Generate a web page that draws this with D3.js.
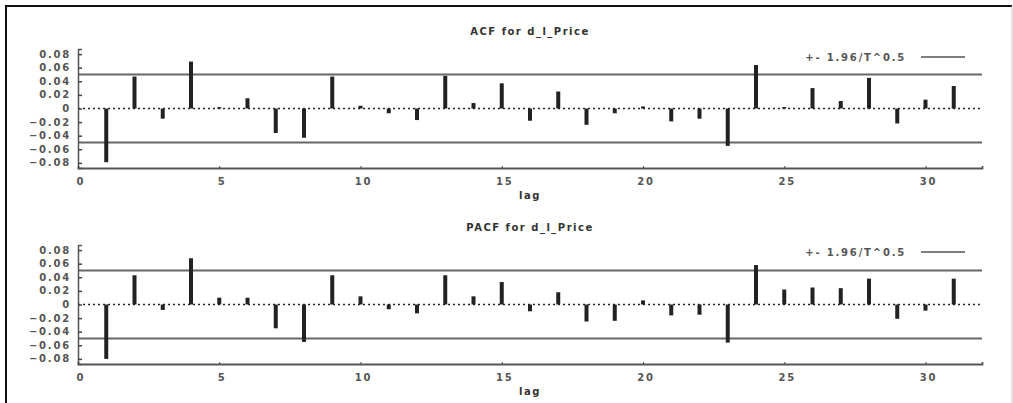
<!DOCTYPE html>
<html lang="en">

<head>
    <meta charset="UTF-8">
    <title>ACF / PACF for d_l_Price</title>
    <style>
        body { margin: 0; background: #fff; }
        text { font-family: "DejaVu Sans", sans-serif; fill: #555; font-weight: bold; }
    </style>
</head>

<body>
    <script type='text/javascript' src='https://d3js.org/d3.v7.min.js'></script>
    <script>
        var lags = d3.range(1, 32);
        var acfValues = [-0.079, 0.047, -0.015, 0.069, 0.002, 0.015, -0.036, -0.043, 0.047, 0.004,
            -0.007, -0.017, 0.048, 0.008, 0.037, -0.018, 0.025, -0.024, -0.007, 0.003,
            -0.019, -0.015, -0.055, 0.064, 0.002, 0.030, 0.011, 0.045, -0.022, 0.013, 0.033];
        var pacfValues = [-0.080, 0.043, -0.008, 0.068, 0.010, 0.010, -0.035, -0.055, 0.043, 0.012,
            -0.007, -0.013, 0.043, 0.012, 0.033, -0.010, 0.018, -0.025, -0.024, 0.006,
            -0.016, -0.015, -0.056, 0.058, 0.022, 0.025, 0.024, 0.038, -0.021, -0.009, 0.038];
        var yTicks = [-0.08, -0.06, -0.04, -0.02, 0, 0.02, 0.04, 0.06, 0.08];
        var xTicks = [0, 5, 10, 15, 20, 25, 30];
        var band = 0.05; // +- 1.96/T^0.5
        var titles = ["ACF for d_l_Price", "PACF for d_l_Price"];
        var legendLabel = "+- 1.96/T^0.5";

        const width = 1013;
        const height = 403;

        const svg = d3.select("body")
            .append("svg")
            .attr("width", width)
            .attr("height", height);

        // frame
        svg.append("line").attr("x1", 6).attr("x2", 1012).attr("y1", 6).attr("y2", 6)
            .attr("stroke", "#111").attr("stroke-width", 2);
        svg.append("line").attr("x1", 6).attr("x2", 6).attr("y1", 5).attr("y2", height)
            .attr("stroke", "#111").attr("stroke-width", 2);
        svg.append("line").attr("x1", 1012).attr("x2", 1012).attr("y1", 6).attr("y2", height)
            .attr("stroke", "#ccc").attr("stroke-width", 1);

        var x = d3.scaleLinear().domain([0, 32]).range([78, 982]);

        function panel(values, top, bottom, title, titleY, legendY) {
            var y = d3.scaleLinear().domain([-0.0875, 0.0875]).range([bottom, top]);
            var g = svg.append("g");

            g.append("text")
                .attr("x", 530).attr("y", titleY)
                .attr("text-anchor", "middle")
                .style("font-size", "10px")
                .style("letter-spacing", "1.5px")
                .style("fill", "#333")
                .text(title);

            // +- band lines
            [band, -band].forEach(function(b) {
                g.append("line")
                    .attr("x1", x(0)).attr("x2", x(32))
                    .attr("y1", y(b)).attr("y2", y(b))
                    .attr("stroke", "#666").attr("stroke-width", 1.8);
            });

            // zero line
            g.append("line")
                .attr("x1", x(0)).attr("x2", x(32))
                .attr("y1", y(0)).attr("y2", y(0))
                .attr("stroke", "#222").attr("stroke-width", 1.3)
                .attr("stroke-dasharray", "2,3");

            // bars
            g.selectAll("rect.bar")
                .data(values)
                .enter()
                .append("rect")
                .attr("class", "bar")
                .attr("x", function(d, i) { return x(lags[i]) - 2; })
                .attr("width", 4)
                .attr("y", function(d) { return y(Math.max(0, d)); })
                .attr("height", function(d) { return Math.abs(y(d) - y(0)); })
                .attr("fill", "#222");

            // y axis
            var yAxis = d3.axisRight(y).tickValues(yTicks).tickSize(4).tickFormat("");
            var ya = g.append("g").attr("transform", "translate(" + x(0) + ",0)").call(yAxis);
            ya.select(".domain").attr("stroke", "#555").attr("stroke-width", 1.5);
            ya.selectAll(".tick line").attr("stroke", "#444").attr("stroke-width", 1.5);
            g.selectAll("text.ylab")
                .data(yTicks)
                .enter()
                .append("text")
                .attr("class", "ylab")
                .attr("x", 71).attr("y", function(d) { return y(d) + 3.5; })
                .attr("text-anchor", "end")
                .style("font-size", "10px")
                .style("letter-spacing", "1.8px")
                .text(function(d) { return d === 0 ? "0" : d3.format(".2f")(d).replace("-", "\u2212"); });

            // x axis
            var xAxis = d3.axisTop(x).tickValues(xTicks).tickSize(2).tickFormat("");
            var xa = g.append("g").attr("transform", "translate(0," + bottom + ")").call(xAxis);
            xa.select(".domain").attr("stroke", "#555").attr("stroke-width", 1.8);
            xa.selectAll(".tick line").attr("stroke", "#444");
            g.selectAll("text.xlab")
                .data(xTicks)
                .enter()
                .append("text")
                .attr("class", "xlab")
                .attr("x", function(d) { return x(d) + 3; })
                .attr("y", bottom + 17)
                .attr("text-anchor", "middle")
                .style("font-size", "10px")
                .style("letter-spacing", "1.8px")
                .text(function(d) { return d; });
            g.append("text")
                .attr("x", 530).attr("y", bottom + 31)
                .attr("text-anchor", "middle")
                .style("font-size", "10px")
                .style("letter-spacing", "1.5px")
                .style("fill", "#333")
                .text("lag");

            // legend
            g.append("text")
                .attr("x", 906).attr("y", legendY + 4)
                .attr("text-anchor", "end")
                .style("font-size", "10px")
                .style("letter-spacing", "1.8px")
                .text(legendLabel);
            g.append("line")
                .attr("x1", 921).attr("x2", 965)
                .attr("y1", legendY).attr("y2", legendY)
                .attr("stroke", "#555").attr("stroke-width", 1.5);
        }

        panel(acfValues, 49, 168, titles[0], 35, 57);
        panel(pacfValues, 245, 364, titles[1], 231, 252);
    </script>
</body>

</html>
